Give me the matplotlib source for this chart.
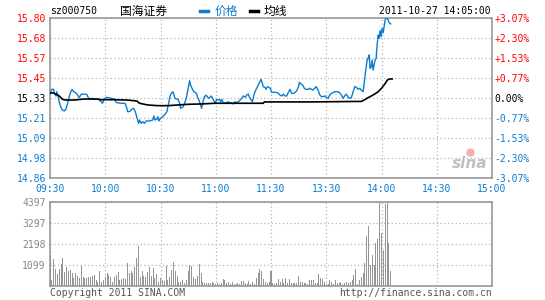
import matplotlib
matplotlib.use("Agg")
import matplotlib.pyplot as plt
import numpy as np

# ---------------- data ----------------
code = "sz000750"
name = "国海证券"
stamp = "2011-10-27 14:05:00"
prev_close = 15.33
y_min, y_max = 14.86, 15.80

time_labels = ["09:30", "10:00", "10:30", "11:00", "11:30", "13:30", "14:00", "14:30", "15:00"]
price_labels = ["14.86", "14.98", "15.09", "15.21", "15.33", "15.45", "15.57", "15.68", "15.80"]
pct_labels = ["-3.07%", "-2.30%", "-1.53%", "-0.77%", "0.00%", "+0.77%", "+1.53%", "+2.30%", "+3.07%"]
vol_labels = ["1099", "2198", "3297", "4397"]
vol_ticks = [1099, 2198, 3297, 4397]

# price line (minute index since 09:30, price)
price_t = [0, 1, 2, 2.4, 3.2, 3.7, 4.4, 5.2, 5.9, 6.8, 7.7, 8.6, 9.5, 10.4, 11.3, 12, 12.8, 14, 15, 15.9,
           16.8, 18.6, 20, 20.7, 21.6, 22.7, 24, 25.8, 27.3, 28.5, 29.4, 30.5, 31.6, 33.4, 35.2, 36, 38.5,
           40.7, 41.6, 42.1, 43.2, 44.3, 45.4, 46.3, 47.2, 48.1, 48.6, 49.5, 50.4, 51.3, 52.2, 54.1, 55.9,
           56.4, 57.1, 57.9, 58.6, 59.1, 60, 61.1, 62.2, 63.5, 64, 64.6, 65.1, 65.8, 66.7, 67.3, 67.8,
           69.5, 70.4, 70.9, 72.3, 73.1, 74, 74.5, 75.2, 75.8, 76.3, 77.1, 78.1, 79.6, 80, 80.7, 81.2,
           81.8, 82.3, 82.9, 83.4, 83.9, 84.7, 85.4, 86.1, 86.8, 87.6, 88.3, 89.7, 90.5, 91.2, 92.1, 92.6,
           93.4, 94.1, 95, 95.9, 96.8, 97.7, 98.6, 99.5, 100.4, 101.4, 102.3, 103.2, 104.1, 105, 105.9,
           106.8, 107.7, 108.2, 109, 109.9, 110.4, 111.3, 112.2, 113.1, 114, 114.6, 115.3, 115.8, 116.8,
           117.3, 118, 118.9, 119.6, 120.4, 122.2, 123.1, 124, 124.9, 125.8, 126.7, 127.6, 128.5, 129.4,
           130.3, 131.2, 132.1, 133.1, 134, 134.9, 135.4, 136.3, 137.2, 138.1, 138.9, 140.3, 141, 141.9,
           142.8, 143.7, 144.6, 145.5, 146.5, 147.4, 148.3, 149.2, 150.1, 151, 151.9, 152.8, 154.6, 156.4,
           157.3, 158.2, 159.1, 160, 160.9, 161.9, 162.8, 163.7, 164.6, 165.5, 166.4, 167.3, 168.2, 169.1,
           170, 170.5, 171.1, 171.6, 172.2, 172.7, 173.3, 173.8, 174.4, 174.9, 175.4, 176, 176.5, 177.1,
           177.6, 178.2, 178.7, 179.2, 179.8, 180.3, 180.9, 181.4, 182, 182.5, 183.1, 183.6, 184.1, 185]
price_v = [15.357, 15.381, 15.381, 15.357, 15.342, 15.367, 15.338, 15.299, 15.275, 15.260, 15.254, 15.263,
           15.295, 15.338, 15.367, 15.381, 15.367, 15.361, 15.347, 15.332, 15.351, 15.353, 15.351, 15.334,
           15.322, 15.328, 15.322, 15.324, 15.314, 15.299, 15.322, 15.334, 15.332, 15.328, 15.322, 15.303,
           15.299, 15.299, 15.275, 15.250, 15.250, 15.263, 15.269, 15.250, 15.216, 15.181, 15.201, 15.181,
           15.191, 15.181, 15.195, 15.195, 15.201, 15.224, 15.201, 15.205, 15.220, 15.195, 15.210, 15.220,
           15.230, 15.250, 15.279, 15.308, 15.338, 15.357, 15.367, 15.351, 15.328, 15.322, 15.299, 15.269,
           15.279, 15.299, 15.328, 15.357, 15.396, 15.432, 15.406, 15.387, 15.367, 15.357, 15.338, 15.322,
           15.308, 15.289, 15.269, 15.299, 15.322, 15.338, 15.347, 15.338, 15.328, 15.334, 15.342, 15.328,
           15.299, 15.322, 15.318, 15.322, 15.308, 15.322, 15.299, 15.299, 15.303, 15.308, 15.299, 15.303,
           15.295, 15.308, 15.303, 15.308, 15.318, 15.328, 15.342, 15.334, 15.347, 15.353, 15.338, 15.322,
           15.308, 15.334, 15.367, 15.387, 15.406, 15.426, 15.440, 15.416, 15.396, 15.393, 15.381, 15.396,
           15.393, 15.387, 15.363, 15.363, 15.363, 15.357, 15.347, 15.342, 15.353, 15.342, 15.342, 15.363,
           15.381, 15.357, 15.357, 15.363, 15.373, 15.396, 15.422, 15.412, 15.406, 15.387, 15.381, 15.381,
           15.387, 15.381, 15.377, 15.387, 15.397, 15.377, 15.348, 15.338, 15.338, 15.342, 15.334, 15.328,
           15.348, 15.357, 15.367, 15.367, 15.361, 15.348, 15.328, 15.342, 15.353, 15.334, 15.328, 15.334,
           15.367, 15.397, 15.393, 15.381, 15.387, 15.377, 15.367, 15.406, 15.465, 15.504, 15.553, 15.563,
           15.583, 15.504, 15.514, 15.553, 15.494, 15.524, 15.553, 15.563, 15.641, 15.700, 15.681, 15.726,
           15.690, 15.739, 15.714, 15.749, 15.788, 15.804, 15.798, 15.788, 15.773, 15.765]

# average line
avg_t = [0, 1.4, 3.2, 5, 6.8, 8.6, 13.1, 18.6, 25.8, 27.6, 34.9, 42.1, 47.2, 48.6, 53.1, 58.6, 64, 69.5,
         74.9, 82.1, 89.4, 94.8, 115.8, 116.4, 142.1, 169.1, 170.9, 172.7, 174.5, 176.3, 178.2, 180,
         181.8, 183.2, 184.5, 185.8]
avg_v = [15.357, 15.361, 15.353, 15.342, 15.322, 15.318, 15.318, 15.324, 15.324, 15.320, 15.320, 15.318,
         15.312, 15.299, 15.289, 15.285, 15.285, 15.289, 15.293, 15.295, 15.299, 15.299, 15.299, 15.307,
         15.307, 15.310, 15.320, 15.332, 15.342, 15.353, 15.367, 15.387, 15.412, 15.436, 15.442, 15.442]

# per-minute volume, minute 0..185
volume = [1605, 296, 1395, 872, 610, 872, 1134, 1430, 732, 959, 785, 820, 645, 384, 645, 506, 384, 1029,
          436, 384, 384, 436, 471, 506, 558, 296, 209, 767, 209, 296, 436, 680, 558, 436, 209, 436, 558,
          732, 296, 331, 384, 331, 1168, 680, 767, 645, 959, 1430, 2075, 436, 767, 506, 436, 732, 959,
          506, 907, 384, 610,
          209, 384, 262, 244, 1029, 262, 436, 820, 1238, 767, 506, 209, 209, 262, 157, 262, 767, 1099,
          1029, 436, 349, 506, 1134, 680, 209, 122, 122, 122, 122, 209, 122, 87, 122, 87, 122, 349, 262,
          122, 174, 87, 174, 87, 87, 122, 87, 244, 244, 122, 87, 244, 87, 174, 87, 384, 645, 872, 750, 349,
          209, 122, 174, 767, 122, 87, 157, 331, 209, 331, 157, 384, 157, 331, 157, 157, 157, 157, 506,
          209, 209, 122, 122, 87, 296, 262, 262, 157, 122, 610, 384, 331, 209, 87, 87, 296, 209, 87, 296,
          157, 122, 209, 87, 157, 209, 122, 209, 296, 558, 872,
          87, 296, 436, 680, 1168, 2599, 3122, 1081, 1604, 1081, 2250, 2424, 4397, 2738, 1866, 4273, 4343,
          2215, 785]

# ---------------- style ----------------
W, H = 545, 300
RED = "#ff0000"
BLUE = "#0b7dd0"
GRAY = "#999999"
GRID = "#b4b4b4"
MONO = "DejaVu Sans Mono"
CJK = ["Noto Sans CJK SC", "DejaVu Sans"]
FS = 7

fig = plt.figure(figsize=(W / 100, H / 100), dpi=100)
fig.patch.set_facecolor("white")


def px(x0, y0, x1, y1):
    return [x0 / W, 1 - y1 / H, (x1 - x0) / W, (y1 - y0) / H]


ax = fig.add_axes(px(50, 18, 492, 178))
axv = fig.add_axes(px(50, 201.5, 492, 285.5))

xt = np.arange(0, 241, 30)
for a in (ax, axv):
    a.set_xlim(0, 240)
    for s in a.spines.values():
        s.set_color(GRAY)
        s.set_linewidth(1.2)
    a.set_xticks(xt)
    a.tick_params(length=0)
    a.grid(True, color=GRID, linestyle=(0, (1, 2)), linewidth=0.9)
    a.set_axisbelow(True)

# price panel
ax.set_ylim(y_min, y_max)
yt = np.linspace(y_min, y_max, len(price_labels))
ax.set_yticks(yt)
ax.set_yticklabels(price_labels, family=MONO, fontsize=FS)
for lab, v in zip(ax.get_yticklabels(), yt):
    lab.set_color(RED if v > prev_close + 1e-6 else ("black" if abs(v - prev_close) < 1e-6 else BLUE))
ax.tick_params(axis="y", pad=3)
ax.set_xticklabels(time_labels, family=MONO, fontsize=FS, color=BLUE)
ax.tick_params(axis="x", pad=4)

ax2 = ax.twinx()
ax2.set_ylim(y_min, y_max)
ax2.set_yticks(yt)
ax2.set_yticklabels(pct_labels, family=MONO, fontsize=FS)
for lab, v in zip(ax2.get_yticklabels(), yt):
    lab.set_color(RED if v > prev_close + 1e-6 else ("black" if abs(v - prev_close) < 1e-6 else BLUE))
ax2.tick_params(length=0, pad=2)
for s in ax2.spines.values():
    s.set_visible(False)

ax.plot(price_t, price_v, color=BLUE, linewidth=1.0, zorder=3)
ax.plot(avg_t, avg_v, color="black", linewidth=1.2, zorder=4)

ax.text(0.95, 0.09, "sina", transform=ax.transAxes, ha="center", va="center",
        fontsize=11, style="italic", weight="bold", color="#c0c0c0", family="DejaVu Sans")
ax.plot([0.95], [0.165], "o", transform=ax.transAxes, color="#f3b0b0", markersize=5)

# volume panel
axv.set_ylim(0, 4397)
axv.set_yticks(vol_ticks)
axv.set_yticklabels(vol_labels, family=MONO, fontsize=FS, color="#888888")
axv.tick_params(axis="y", pad=3)
axv.set_xticklabels([])
axv.bar(np.arange(len(volume)), volume, width=0.55, color="#959595", zorder=3)

# header / footer texts
def ftxt(x, y, s, **kw):
    fig.text(x / W, 1 - y / H, s, va="center", **kw)

ftxt(50, 11.5, code, family=MONO, fontsize=FS, color="black")
ftxt(120, 11.5, name, family=CJK, fontsize=8.5, color="black")
fig.add_artist(plt.Line2D([200 / W, 208 / W], [1 - 11 / H, 1 - 11 / H], color=BLUE, linewidth=2.5))
ftxt(215, 11.5, "价格", family=CJK, fontsize=8.5, color=BLUE)
fig.add_artist(plt.Line2D([250 / W, 258 / W], [1 - 11 / H, 1 - 11 / H], color="black", linewidth=2.5))
ftxt(264, 11.5, "均线", family=CJK, fontsize=8.5, color="black")
ftxt(491, 11.5, stamp, family=MONO, fontsize=FS, color="black", ha="right")
ftxt(50, 292.5, "Copyright 2011 SINA.COM", family=MONO, fontsize=FS, color="#555555")
ftxt(492, 293, "http://finance.sina.com.cn", family=MONO, fontsize=FS, color="#555555", ha="right")

fig.savefig("out.png", dpi=100)
